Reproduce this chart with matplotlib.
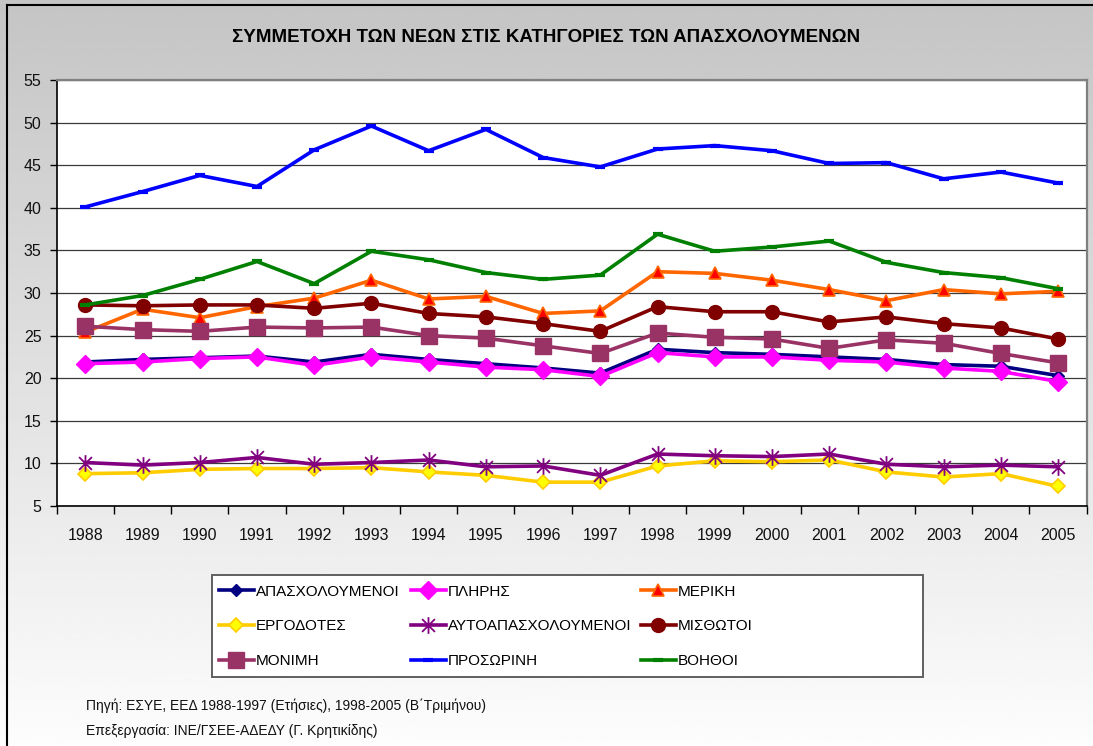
import numpy as np
import matplotlib
matplotlib.use("Agg")
import matplotlib.pyplot as plt
from matplotlib.path import Path
from matplotlib.lines import Line2D
from matplotlib.patches import Rectangle
from matplotlib.ticker import MultipleLocator, FixedLocator

years = [str(y) for y in range(1988, 2006)]

apasx = [21.9, 22.2, 22.4, 22.6, 21.9, 22.8, 22.2, 21.7, 21.2, 20.6, 23.4, 23.0, 22.8, 22.5, 22.2, 21.6, 21.4, 20.3]
plires = [21.7, 21.9, 22.3, 22.5, 21.5, 22.5, 21.9, 21.3, 21.0, 20.2, 23.0, 22.5, 22.5, 22.1, 21.9, 21.2, 20.8, 19.6]
meriki = [25.4, 28.1, 27.1, 28.4, 29.4, 31.5, 29.3, 29.6, 27.6, 27.9, 32.5, 32.3, 31.5, 30.4, 29.1, 30.4, 29.9, 30.2]
ergodotes = [8.8, 8.9, 9.3, 9.4, 9.4, 9.5, 9.0, 8.6, 7.8, 7.8, 9.7, 10.3, 10.2, 10.4, 9.0, 8.4, 8.8, 7.3]
autoapasx = [10.1, 9.8, 10.1, 10.7, 9.9, 10.1, 10.4, 9.6, 9.7, 8.6, 11.1, 10.9, 10.8, 11.1, 9.9, 9.6, 9.8, 9.6]
misthotoi = [28.6, 28.5, 28.6, 28.6, 28.2, 28.8, 27.6, 27.2, 26.4, 25.5, 28.4, 27.8, 27.8, 26.6, 27.2, 26.4, 25.9, 24.6]
monimi = [26.1, 25.7, 25.5, 26.0, 25.9, 26.0, 25.0, 24.7, 23.8, 22.9, 25.3, 24.8, 24.6, 23.5, 24.5, 24.1, 22.9, 21.8]
prosorini = [40.1, 41.9, 43.8, 42.5, 46.8, 49.6, 46.7, 49.2, 45.9, 44.8, 46.9, 47.3, 46.7, 45.2, 45.3, 43.4, 44.2, 42.9]
voithoi = [28.6, 29.7, 31.6, 33.7, 31.1, 34.9, 33.9, 32.4, 31.6, 32.1, 36.9, 34.9, 35.4, 36.1, 33.6, 32.4, 31.8, 30.5]

title = "ΣΥΜΜΕΤΟΧΗ ΤΩΝ ΝΕΩΝ ΣΤΙΣ ΚΑΤΗΓΟΡΙΕΣ ΤΩΝ ΑΠΑΣΧΟΛΟΥΜΕΝΩΝ"
source1 = "Πηγή: ΕΣΥΕ, ΕΕΔ 1988-1997 (Ετήσιες), 1998-2005 (Β΄Τριμήνου)"
source2 = "Επεξεργασία: ΙΝΕ/ΓΣΕΕ-ΑΔΕΔΥ (Γ. Κρητικίδης)"

plt.rcParams["font.family"] = ["Liberation Sans", "DejaVu Sans"]

# asterisk marker: X plus vertical bar
star = Path([(-1, -1), (1, 1), (-1, 1), (1, -1), (0, -1.3), (0, 1.3)],
            [Path.MOVETO, Path.LINETO, Path.MOVETO, Path.LINETO, Path.MOVETO, Path.LINETO])

series = [
    ("ΑΠΑΣΧΟΛΟΥΜΕΝΟΙ", apasx, dict(color="#000080", marker="D", ms=6, mfc="#000080", mec="#000080")),
    ("ΠΛΗΡΗΣ", plires, dict(color="#FF00FF", marker="D", ms=9.5, mfc="#FF00FF", mec="#FF00FF")),
    ("ΜΕΡΙΚΗ", meriki, dict(color="#FF6600", marker="^", ms=9, mfc="#FF0000", mec="#FF6600", mew=1.2)),
    ("ΕΡΓΟΔΟΤΕΣ", ergodotes, dict(color="#FFCC00", marker="D", ms=7, mfc="#FFFF00", mec="#FFCC00", mew=1.2)),
    ("ΑΥΤΟΑΠΑΣΧΟΛΟΥΜΕΝΟΙ", autoapasx, dict(color="#800080", marker=star, ms=12, mfc="none", mec="#800080", mew=1.3)),
    ("ΜΙΣΘΩΤΟΙ", misthotoi, dict(color="#800000", marker="o", ms=10, mfc="#800000", mec="#800000")),
    ("ΜΟΝΙΜΗ", monimi, dict(color="#993366", marker="s", ms=11, mfc="#993366", mec="#993366")),
    ("ΠΡΟΣΩΡΙΝΗ", prosorini, dict(color="#0000FF", marker="_", ms=7, mec="#0000FF", mew=3)),
    ("ΒΟΗΘΟΙ", voithoi, dict(color="#008000", marker="_", ms=7, mec="#008000", mew=3)),
]

W, H = 1093, 746
fig = plt.figure(figsize=(W / 100, H / 100), dpi=100)

# background gradient
bg = fig.add_axes([0, 0, 1, 1], zorder=-10)
grad = np.linspace(0.77, 0.99, 256).reshape(-1, 1)
bg.imshow(grad, cmap="gray", vmin=0, vmax=1, aspect="auto", extent=[0, 1, 0, 1])
bg.set_axis_off()

# outer frame lines (top and left)
fig.add_artist(Line2D([7 / W, 1], [1 - 5 / H, 1 - 5 / H], color="black", lw=1.5, transform=fig.transFigure))
fig.add_artist(Line2D([7 / W, 7 / W], [0, 1 - 5 / H], color="black", lw=1.5, transform=fig.transFigure))

ax = fig.add_axes([56.7 / W, 1 - 506 / H, 1030 / W, 426 / H])
ax.set_facecolor("white")
x = np.arange(len(years))
handles = {}
for name, vals, st in series:
    ln, = ax.plot(x, vals, lw=2.6, label=name, solid_joinstyle="round", **st)
    handles[name] = ln

ax.set_xlim(-0.5, len(years) - 0.5)
ax.set_ylim(5, 55)
ax.yaxis.set_major_locator(MultipleLocator(5))
ax.grid(axis="y", color="#3a3a3a", lw=0.9)
ax.set_axisbelow(True)
ax.set_xticks(x)
ax.set_xticklabels(years)
ax.xaxis.set_minor_locator(FixedLocator(np.arange(-0.5, len(years), 1.0)))
ax.tick_params(axis="x", which="major", length=0, pad=16, labelsize=11.5, labelcolor="#111111")
ax.tick_params(axis="x", which="minor", length=6, width=1.0, direction="out")
ax.tick_params(axis="y", length=5, width=1.0, pad=6, labelsize=11.5, labelcolor="#111111")
for s in ["left", "bottom"]:
    ax.spines[s].set_color("black")
    ax.spines[s].set_linewidth(1.2)
for s in ["top", "right"]:
    ax.spines[s].set_color("#808080")
    ax.spines[s].set_linewidth(1.6)

fig.text(0.5, 1 - 38 / H, title, ha="center", va="center", fontsize=13.5, fontweight="bold")

# legend box
fig.add_artist(Rectangle((212 / W, 1 - 677 / H), 711 / W, 102 / H, transform=fig.transFigure,
                         facecolor="white", edgecolor="#606060", lw=1.4, zorder=1))
cols = [["ΑΠΑΣΧΟΛΟΥΜΕΝΟΙ", "ΕΡΓΟΔΟΤΕΣ", "ΜΟΝΙΜΗ"],
        ["ΠΛΗΡΗΣ", "ΑΥΤΟΑΠΑΣΧΟΛΟΥΜΕΝΟΙ", "ΠΡΟΣΩΡΙΝΗ"],
        ["ΜΕΡΙΚΗ", "ΜΙΣΘΩΤΟΙ", "ΒΟΗΘΟΙ"]]
col_x = [214, 406, 636]
for cx, names_col in zip(col_x, cols):
    leg = fig.legend([handles[n] for n in names_col], names_col, loc="upper left",
                     bbox_to_anchor=(cx / W, 1 - 580 / H), frameon=False,
                     handlelength=2.3, handletextpad=0.15, labelspacing=1.36,
                     borderpad=0.3, borderaxespad=0,
                     prop=dict(size=11))
    leg.set_zorder(2)

fig.text(86 / W, 1 - 706 / H, source1, ha="left", va="center", fontsize=10, color="#111111")
fig.text(86 / W, 1 - 731 / H, source2, ha="left", va="center", fontsize=10, color="#111111")

fig.savefig("out.png", dpi=100)
